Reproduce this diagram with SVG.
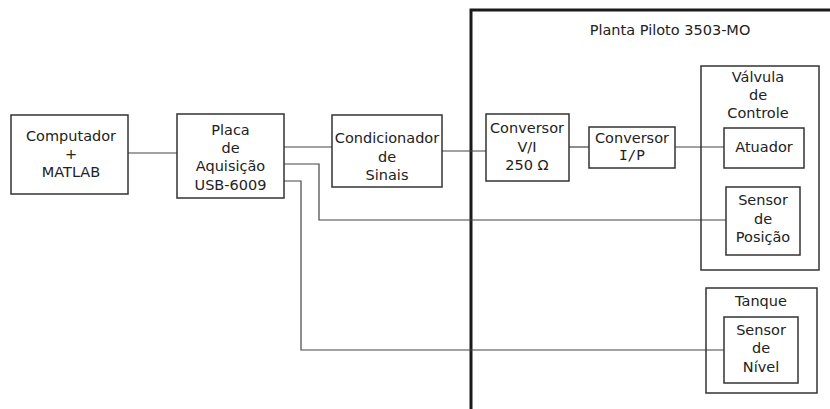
<svg xmlns="http://www.w3.org/2000/svg" width="830" height="409" viewBox="0 0 830 409">
<style>
.box{fill:none;stroke:#333;stroke-width:1.5}
.ln{fill:none;stroke:#444;stroke-width:1.2}
.frame{fill:none;stroke:#1a1a1a;stroke-width:3}
text{font-family:"DejaVu Sans",Verdana,sans-serif;font-size:14.5px;fill:#222;text-anchor:middle}
.mono{font-family:"DejaVu Sans Mono","Liberation Mono",monospace}
</style>
<rect width="830" height="409" fill="#fff"/>
<g id="planta">
<path class="frame" d="M471,409 V10 H832"/>
<text x="670" y="35">Planta Piloto 3503-MO</text>
</g>
<g id="connectors">
<path class="ln" d="M128,153 H177"/>
<path class="ln" d="M284,147 H332"/>
<path class="ln" d="M284,164 H319 V220 H726"/>
<path class="ln" d="M284,181 H301 V350 H724"/>
<path class="ln" d="M442,151 H486"/>
<path class="ln" d="M569,147 H589"/>
<path class="ln" d="M675,147 H724"/>
</g>
<g id="computador">
<rect class="box" x="11" y="115" width="117" height="79"/>
<text x="71" y="141">Computador</text>
<text x="71" y="159">+</text>
<text x="71" y="177">MATLAB</text>
</g>
<g id="placa">
<rect class="box" x="177" y="114" width="107" height="84"/>
<text x="230.5" y="135">Placa</text>
<text x="230.5" y="153">de</text>
<text x="230.5" y="171">Aquisição</text>
<text x="230.5" y="190">USB-6009</text>
</g>
<g id="condicionador">
<rect class="box" x="332" y="115" width="110" height="72"/>
<text x="387" y="143">Condicionador</text>
<text x="387" y="162">de</text>
<text x="387" y="180">Sinais</text>
</g>
<g id="conversor-vi">
<rect class="box" x="486" y="114" width="83" height="67"/>
<text x="527" y="133">Conversor</text>
<text x="527" y="152">V/I</text>
<text x="527" y="170">250 Ω</text>
</g>
<g id="conversor-ip">
<rect class="box" x="589" y="127" width="86" height="41"/>
<text x="632" y="143">Conversor</text>
<text x="632" y="160" class="mono">I/P</text>
</g>
<g id="valvula">
<rect class="box" x="701" y="66" width="118" height="204"/>
<text x="758" y="82">Válvula</text>
<text x="758" y="100">de</text>
<text x="758" y="118">Controle</text>
</g>
<g id="atuador">
<rect class="box" x="724" y="128" width="80" height="40"/>
<text x="764" y="152">Atuador</text>
</g>
<g id="sensor-posicao">
<rect class="box" x="726" y="187" width="74" height="68"/>
<text x="763" y="205">Sensor</text>
<text x="763" y="224">de</text>
<text x="763" y="242">Posição</text>
</g>
<g id="tanque">
<rect class="box" x="706" y="288" width="111" height="105"/>
<text x="761" y="306">Tanque</text>
</g>
<g id="sensor-nivel">
<rect class="box" x="724" y="317" width="74" height="66"/>
<text x="761" y="335">Sensor</text>
<text x="761" y="353">de</text>
<text x="761" y="372">Nível</text>
</g>
</svg>
